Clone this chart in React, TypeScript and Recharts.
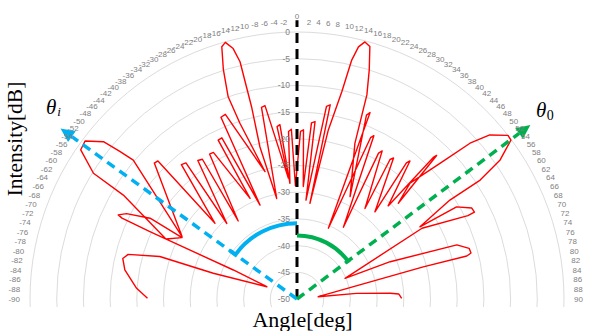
import { PolarAngleAxis, PolarGrid, PolarRadiusAxis, Radar, RadarChart } from "recharts";

// [angle deg, intensity dB], in drawing order (left end -> right end)
const PATTERN: [number, number][] = [
  [-89.7, -22.0], [-86.2, -19.9], [-80.4, -17.3], [-76.9, -16.5], [-75.2, -17.3],
  [-72.8, -23.1], [-72.9, -33.6], [-67.9, -43.9],
  [-65.5, -36.9], [-65.4, -19.7], [-65.2, -13.9], [-64.8, -13.0], [-63.4, -14.3],
  [-61.2, -18.6], [-61.9, -25.6],
  [-65.4, -23.0], [-59.1, -12.1], [-58.3, -5.2], [-55.4, -0.8], [-53.3, -0.5],
  [-50.9, -3.3], [-50.2, -6.9], [-49.7, -9.8], [-61.5, -25.5],
  [-46.4, -13.1], [-45.2, -13.3], [-47.3, -29.1],
  [-40.7, -16.8], [-39.2, -17.1], [-42.9, -30.7],
  [-35.6, -18.1], [-34.1, -18.4], [-37.0, -31.7],
  [-31.1, -18.3], [-29.7, -18.4], [-25.0, -29.2],
  [-26.4, -16.8], [-25.0, -16.7], [-21.5, -31.1],
  [-22.7, -13.1], [-21.2, -12.9], [-14.1, -25.4],
  [-18.0, -15.4], [-18.8, -10.0], [-17.8, -4.9], [-16.6, -0.7], [-15.6, -0.1],
  [-14.3, -1.6], [-13.5, -4.3], [-13.3, -13.0], [-13.7, -20.7], [-11.4, -30.8],
  [-10.5, -13.5], [-9.4, -13.3], [-4.1, -27.3],
  [-6.6, -17.5], [-5.6, -17.2], [-3.5, -28.3],
  [-2.9, -18.6], [-1.9, -18.2], [-0.8, -28.8],
  [1.2, -18.6], [2.2, -18.3], [3.2, -28.9],
  [4.7, -16.9], [5.8, -16.6], [5.2, -31.4],
  [8.7, -13.5], [9.7, -13.1], [7.7, -31.9],
  [10.5, -17.8], [12.2, -10.3], [12.9, -4.1], [13.7, -1.4], [14.8, -0.2],
  [16.1, -0.8], [17.5, -5.0], [18.9, -9.6], [20.4, -18.9], [27.4, -28.4],
  [20.7, -13.2], [21.4, -12.5], [23.9, -35.5],
  [24.5, -16.8], [25.2, -16.2], [32.9, -34.0],
  [29.2, -18.7], [29.9, -18.0], [36.9, -28.8],
  [33.7, -18.6], [34.4, -18.0], [41.8, -28.1],
  [38.8, -17.3], [39.3, -16.6], [44.4, -25.6],
  [43.9, -13.2], [44.2, -12.5], [46.6, -23.9],
  [44.3, -19.7], [46.5, -13.1], [48.0, -6.4], [49.6, -2.6], [52.2, 0.0],
  [53.4, -0.1], [55.6, -3.9], [57.0, -9.1], [57.1, -15.9], [59.6, -23.3],
  [60.0, -15.5], [62.5, -13.1], [63.9, -13.0], [64.0, -14.4], [60.5, -23.1],
  [66.7, -40.2], [68.2, -31.2], [71.3, -18.4], [73.6, -16.4], [75.2, -16.3],
  [75.8, -17.2], [75.7, -25.6],
  [83.8, -46.0], [84.6, -38.8], [86.5, -32.5], [87.2, -30.9], [89.6, -30.4],
];

const NORMAL_LINE: [number, number][] = [[0, -50], [0, 2.2]];
const THETA_I_RAY: [number, number][] = [[-54.2, -50], [-54.2, 4.6]];
const THETA_0_RAY: [number, number][] = [[53.3, -50], [53.3, 4.5]];
const THETA_I_ARC: [number, number][] = [[0, -35.8], [-54.2, -35.8], [-54.2, -34.6]];
const THETA_0_ARC: [number, number][] = [[0, -38.1], [55, -38.1]];

const ANGLE_TICKS = [
  -90, -88, -86, -84, -82, -80, -78, -76, -74, -72, -70, -68, -66, -64, -62, -60,
  -58, -56, -54, -52, -50, -48, -46, -44, -42, -40, -38, -36, -34, -32, -30, -28,
  -26, -24, -22, -20, -18, -16, -14, -12, -10, -8, -6, -4, -2, 0, 2, 4, 6, 8, 10,
  12, 14, 16, 18, 20, 22, 24, 26, 28, 30, 32, 34, 36, 38, 40, 42, 44, 46, 48, 50,
  52, 54, 56, 58, 60, 62, 64, 66, 68, 70, 72, 74, 76, 78, 80, 82, 84, 86, 88, 90,
];
const DB_TICKS = [-50, -45, -40, -35, -30, -25, -20, -15, -10, -5, 0];

const rows: Record<string, number>[] = [];
function addSeries(key: string, pts: [number, number][]) {
  for (const [a, v] of pts) rows.push({ angle: a, [key]: v });
}
addSeries("pattern", PATTERN);
addSeries("normal", NORMAL_LINE);
addSeries("thetaI", THETA_I_RAY);
addSeries("theta0", THETA_0_RAY);
addSeries("arcI", THETA_I_ARC);
addSeries("arc0", THETA_0_ARC);

const LABEL_FONT = '"Liberation Sans", Arial, sans-serif';
const SERIF = '"Liberation Serif", "Times New Roman", serif';

// keep only the points that belong to this series (rows are shared by all radars)
function seriesPts(props: any, key: string) {
  return (props.points ?? []).filter(
    (p: any) => p.payload && typeof p.payload[key] === "number" && Number.isFinite(p.x) && Number.isFinite(p.y)
  );
}

// open polyline through the radar points (the default polygon would close itself)
const lineShape = (key: string, color: string, width: number, dash?: string) => (props: any) => {
  const p = seriesPts(props, key);
  if (p.length < 2) return <g />;
  const d = p.map((q: any, i: number) => `${i ? "L" : "M"}${q.x},${q.y}`).join(" ");
  return (
    <path d={d} fill="none" stroke={color} strokeWidth={width} strokeDasharray={dash} strokeLinejoin="round" />
  );
};

const arrowShape = (key: string, color: string) => (props: any) => {
  const p = seriesPts(props, key);
  if (p.length < 2) return <g />;
  const a = p[0];
  const b = p[p.length - 1];
  const len = Math.hypot(b.x - a.x, b.y - a.y);
  const ux = (b.x - a.x) / len;
  const uy = (b.y - a.y) / len;
  const head = 14;
  const half = 6.5;
  const bx = b.x - ux * head;
  const by = b.y - uy * head;
  return (
    <g>
      <line x1={a.x} y1={a.y} x2={bx} y2={by} stroke={color} strokeWidth={3.5} strokeDasharray="9 6" />
      <polygon
        points={`${b.x},${b.y} ${bx - uy * half},${by + ux * half} ${bx + uy * half},${by - ux * half}`}
        fill={color}
      />
    </g>
  );
};

const arcShape = (key: string, color: string) => (props: any) => {
  const p = seriesPts(props, key);
  if (p.length < 2) return <g />;
  const [s, e, ...rest] = p;
  const r = Math.hypot(s.x - s.cx, s.y - s.cy);
  const sweep = e.x > s.x ? 1 : 0;
  let d = `M${s.x},${s.y} A${r},${r} 0 0 ${sweep} ${e.x},${e.y}`;
  for (const q of rest) d += ` L${q.x},${q.y}`;
  return <path d={d} fill="none" stroke={color} strokeWidth={4} />;
};

function AngleTick(props: any) {
  const { x, y, textAnchor, payload } = props;
  const v = payload?.value;
  if (v === 0) {
    return (
      <text x={x} y={y - 3.5} textAnchor="middle" fontSize={8} fill="#7f7f7f" fontFamily={LABEL_FONT}>
        0
      </text>
    );
  }
  return (
    <text x={x} y={y} dy="0.35em" textAnchor={textAnchor} fontSize={8} fill="#7f7f7f" fontFamily={LABEL_FONT}>
      {v}
    </text>
  );
}

function DbTick(props: any) {
  const { x, y, payload } = props;
  return (
    <text x={x - 7} y={y} dy="0.35em" textAnchor="end" fontSize={8.5} fill="#7f7f7f" fontFamily={LABEL_FONT}>
      {payload?.value}
    </text>
  );
}

export default function App() {
  return (
    <div style={{ position: "fixed", left: 0, top: 0, width: 589, height: 331, background: "#fff", overflow: "hidden" }}>
      <RadarChart
        width={589}
        height={307}
        data={rows}
        cx={297}
        cy={299}
        innerRadius={0}
        outerRadius={267}
        startAngle={180}
        endAngle={0}
        margin={{ top: 0, right: 0, bottom: 0, left: 0 }}
      >
        <PolarGrid gridType="circle" radialLines={false} stroke="#dcdcdc" />
        <PolarAngleAxis
          dataKey="angle"
          type="number"
          domain={[-90, 90]}
          ticks={ANGLE_TICKS}
          tick={AngleTick}
          tickSize={10}
          tickLine={false}
          axisLine={false}
        />
        <PolarRadiusAxis
          angle={90}
          type="number"
          domain={[-50, 0]}
          ticks={DB_TICKS}
          allowDataOverflow
          tick={DbTick}
          axisLine={false}
        />
        <Radar dataKey="pattern" stroke="#ff0000" fill="none" dot={false} isAnimationActive={false} shape={lineShape("pattern", "#ff0000", 1.4)} />
        <Radar dataKey="normal" stroke="#000" fill="none" dot={false} isAnimationActive={false} shape={lineShape("normal", "#000000", 3, "10 6")} />
        <Radar dataKey="thetaI" stroke="#00b0f0" fill="none" dot={false} isAnimationActive={false} shape={arrowShape("thetaI", "#00b0f0")} />
        <Radar dataKey="theta0" stroke="#00b050" fill="none" dot={false} isAnimationActive={false} shape={arrowShape("theta0", "#00b050")} />
        <Radar dataKey="arcI" stroke="#00b0f0" fill="none" dot={false} isAnimationActive={false} shape={arcShape("arcI", "#00b0f0")} />
        <Radar dataKey="arc0" stroke="#00b050" fill="none" dot={false} isAnimationActive={false} shape={arcShape("arc0", "#00b050")} />
      </RadarChart>
      <svg width={589} height={331} style={{ position: "absolute", left: 0, top: 0, pointerEvents: "none" }}>
        <text transform="translate(22,139) rotate(-90)" textAnchor="middle" fontSize={21.5} fontFamily={SERIF} fill="#000">
          Intensity[dB]
        </text>
        <text x={302.5} y={326.5} textAnchor="middle" fontSize={22} fontFamily={SERIF} fill="#000">
          Angle[deg]
        </text>
        <text x={46} y={114} fontSize={21} fontStyle="italic" fontFamily={SERIF} fill="#000">
          θ<tspan dx={1} dy={2} fontSize={13}>i</tspan>
        </text>
        <text x={536} y={117} fontSize={21} fontStyle="italic" fontFamily={SERIF} fill="#000">
          θ<tspan dx={0.5} dy={3} fontSize={14} fontStyle="normal">0</tspan>
        </text>
      </svg>
    </div>
  );
}
